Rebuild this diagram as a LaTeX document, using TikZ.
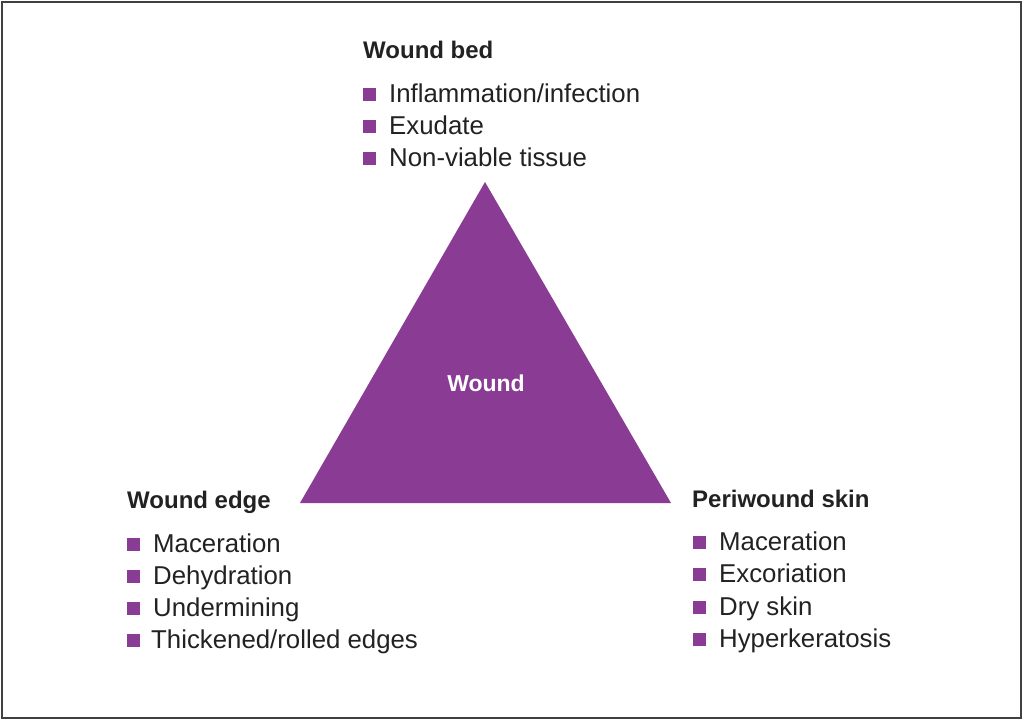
\documentclass[tikz,border=0pt]{standalone}
\usepackage{fontspec}
\setmainfont{Liberation Sans}
\definecolor{wpurple}{HTML}{8A3C95}
\definecolor{wtext}{HTML}{222222}
\begin{document}
\begin{tikzpicture}[x=1pt,y=-1pt,
  head/.style={anchor=base west,inner sep=0pt,font=\fontsize{24}{28}\selectfont\bfseries,text=wtext},
  item/.style={anchor=base west,inner sep=0pt,font=\fontsize{25.8}{30}\selectfont,text=wtext},
  bul/.style={fill=wpurple,draw=none,minimum size=13pt,inner sep=0pt}]
\useasboundingbox (0,0) rectangle (1024,721);
\fill[white] (0,0) rectangle (1024,721);
\draw[line width=2.2pt,draw=black!75] (2,2) rectangle (1021,718);
% triangle
\coordinate (apex) at (485,182);
\coordinate (bl) at (300,503);
\coordinate (br) at (671,503);
\fill[wpurple] (apex) -- (bl) -- (br) -- cycle;
\node[anchor=center,inner sep=0pt,text=white,font=\fontsize{23}{26}\selectfont\bfseries] (wound) at (486,383) {Wound};
% Wound bed
\node[head] (hbed) at (363,58) {Wound bed};
\node[item] (b1) at (389,102) {Inflammation/infection};
\node[item] (b2) at (389,134) {Exudate};
\node[item] (b3) at (389,166) {Non-viable tissue};
\node[bul] (sb1) at (369.5,94) {};
\node[bul] (sb2) at (369.5,126) {};
\node[bul] (sb3) at (369.5,158) {};
% Wound edge
\node[head] (hedge) at (127,508) {Wound edge};
\node[item] (e1) at (153,552) {Maceration};
\node[item] (e2) at (153,584) {Dehydration};
\node[item] (e3) at (153,616) {Undermining};
\node[item] (e4) at (151,648) {Thickened/rolled edges};
\node[bul] (se1) at (133,544) {};
\node[bul] (se2) at (133,576) {};
\node[bul] (se3) at (133,608) {};
\node[bul] (se4) at (133,640) {};
% Periwound skin
\node[head] (hperi) at (692,507) {Periwound skin};
\node[item] (p1) at (719,550) {Maceration};
\node[item] (p2) at (719,582) {Excoriation};
\node[item] (p3) at (719,615) {Dry skin};
\node[item] (p4) at (719,647) {Hyperkeratosis};
\node[bul] (sp1) at (699,542) {};
\node[bul] (sp2) at (699,574) {};
\node[bul] (sp3) at (699,607) {};
\node[bul] (sp4) at (699,639) {};
\end{tikzpicture}
\end{document}
